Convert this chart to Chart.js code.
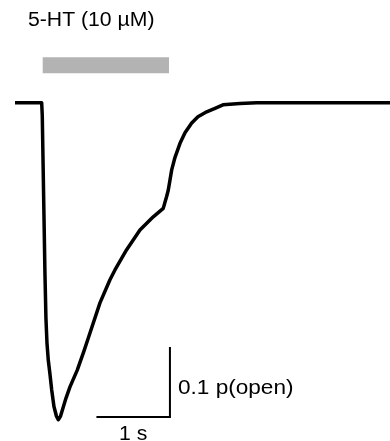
<!DOCTYPE html>
<html>
<head>
<meta charset="utf-8">
<script src="https://cdn.jsdelivr.net/npm/chart.js@4"></script>
<style>
  body { margin: 0; background: #fff; }
  canvas { display: block; }
</style>
</head>
<body>
<canvas id="trace" width="390" height="441"></canvas>
<script>
// time (s) from agonist onset, open probability
var timeS = [-0.367, -0.004, 0.004, 0.027, 0.041, 0.054, 0.068, 0.086, 0.109, 0.132, 0.163,
  0.197, 0.222, 0.252, 0.286, 0.327, 0.381, 0.48, 0.571, 0.653, 0.789, 0.925, 0.993, 1.152,
  1.333, 1.514, 1.65, 1.696, 1.718, 1.765, 1.81, 1.878, 1.946, 2.037, 2.122, 2.241, 2.354,
  2.463, 2.694, 2.921, 4.735];
var pOpen = [0, 0, 0.018, 0.16, 0.246, 0.308, 0.343, 0.368, 0.388, 0.41, 0.434,
  0.448, 0.453, 0.448, 0.436, 0.422, 0.406, 0.382, 0.355, 0.329, 0.286, 0.253, 0.239, 0.21,
  0.182, 0.163, 0.151, 0.134, 0.125, 0.096, 0.078, 0.058, 0.043, 0.029, 0.02, 0.013, 0.008,
  0.003, 0.001, 0, 0];

// 5-HT application window (s)
var drugOn = [0.01, 1.728];
var drugLabel = '5-HT (10 µM)';

// scale bar corner and lengths
var barCorner = [1.741, 0.449];
var barTime = 1;      // s
var barPopen = 0.1;
var barLabels = ['1 s', '0.1 p(open)'];

function pts(xs, ys) {
  return xs.map(function(x, i) { return { x: x, y: ys[i] }; });
}

var labelsPlugin = {
  id: 'labels',
  afterDraw: function(chart) {
    var ctx = chart.ctx;
    var xs = chart.scales.x, ys = chart.scales.y;
    ctx.save();
    ctx.fillStyle = '#000';
    ctx.textBaseline = 'alphabetic';
    ctx.textAlign = 'left';
    ctx.font = '20px "Liberation Sans", Arial, sans-serif';

    // drug label above the bar
    ctx.save();
    ctx.translate(28, 25.7);
    ctx.scale(1.06, 1);
    ctx.fillText(drugLabel, 0, 0);
    ctx.restore();

    // vertical bar label
    var cx = xs.getPixelForValue(barCorner[0]);
    var midY = ys.getPixelForValue(barCorner[1] - barPopen / 2);
    ctx.save();
    ctx.translate(cx + 8, midY + 12);
    ctx.scale(1.13, 1);
    ctx.fillText(barLabels[1], 0, 0);
    ctx.restore();

    // horizontal bar label
    var midX = xs.getPixelForValue(barCorner[0] - barTime / 2);
    var by = ys.getPixelForValue(barCorner[1]);
    ctx.save();
    ctx.translate(midX, by + 23.5);
    ctx.scale(1.06, 1);
    ctx.textAlign = 'center';
    ctx.fillText(barLabels[0], 0, 0);
    ctx.restore();

    ctx.restore();
  }
};

var ctx = document.getElementById('trace').getContext('2d');
var chart = new Chart(ctx, {
  type: 'line',
  data: {
    datasets: [{
      label: 'p(open)',
      data: pts(timeS, pOpen),
      borderColor: '#000',
      borderWidth: 3.5,
      pointRadius: 0,
      tension: 0,
      borderJoinStyle: 'round'
    }, {
      label: 'drug',
      data: pts(drugOn, [-0.0534, -0.0534]),
      borderColor: '#b3b3b3',
      borderWidth: 16,
      borderCapStyle: 'butt',
      pointRadius: 0
    }, {
      label: 'scale',
      data: pts([barCorner[0] - barTime, barCorner[0], barCorner[0]],
                [barCorner[1], barCorner[1], barCorner[1] - barPopen]),
      borderColor: '#000',
      borderWidth: 2,
      pointRadius: 0,
      tension: 0
    }]
  },
  options: {
    responsive: false,
    animation: false,
    layout: { padding: 0 },
    plugins: { legend: { display: false }, tooltip: { enabled: false } },
    scales: {
      x: { type: 'linear', min: -0.571, max: 4.735, display: false },
      y: { type: 'linear', reverse: true, min: -0.1467, max: 0.4833, display: false }
    }
  },
  plugins: [labelsPlugin]
});
</script>
</body>
</html>
